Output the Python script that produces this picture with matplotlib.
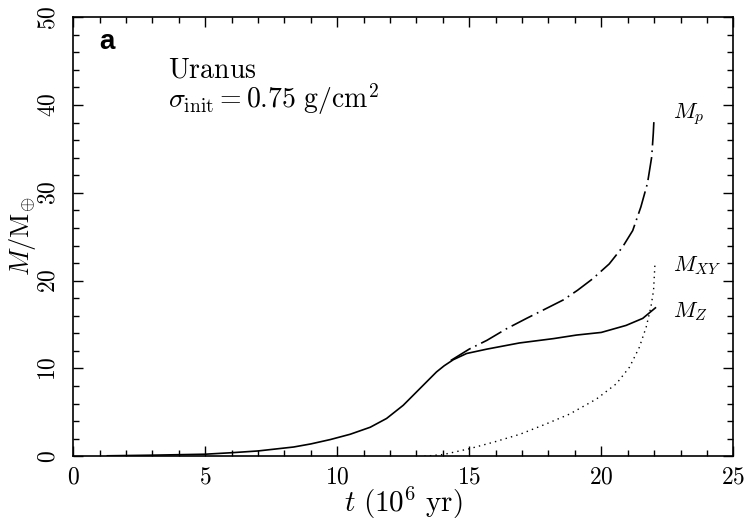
import matplotlib
matplotlib.use("Agg")
import matplotlib.pyplot as plt
from matplotlib.ticker import MultipleLocator, FuncFormatter

plt.rcParams['mathtext.fontset'] = 'cm'
plt.rcParams['font.family'] = ['DejaVu Serif']

# time in 10^6 yr, masses in Earth masses
t_z = [1.3, 3.0, 5.0, 6.0, 7.0, 8.35, 9.0, 9.74, 10.49, 11.25, 11.87, 12.5, 13.13, 13.76,
       14.05, 14.4, 14.9, 15.67, 16.9, 18.2, 19.06, 20.0, 20.94, 21.57, 22.05]
m_z = [0.05, 0.12, 0.23, 0.4, 0.6, 1.05, 1.4, 1.9, 2.5, 3.3, 4.3, 5.8, 7.7, 9.6,
       10.3, 11.0, 11.7, 12.2, 12.9, 13.4, 13.8, 14.1, 14.9, 15.7, 16.9]

t_p = [14.3, 15.0, 15.67, 16.4, 17.17, 17.9, 18.56, 19.1, 19.67, 20.3, 20.8, 21.19,
       21.5, 21.75, 21.91, 21.97, 22.0]
m_p = [10.9, 12.2, 13.2, 14.5, 15.7, 16.8, 17.8, 18.9, 20.2, 21.9, 23.8, 25.7,
       28.4, 31.1, 34.1, 36.8, 38.6]

t_xy = [13.3, 14.03, 15.0, 15.92, 16.92, 17.93, 18.8, 19.81, 20.57, 21.07, 21.44, 21.7,
        21.88, 21.98, 22.03]
m_xy = [0.0, 0.2, 0.85, 1.6, 2.5, 3.7, 4.8, 6.5, 8.25, 10.15, 12.4, 14.7,
        17.0, 18.9, 21.75]

fig = plt.figure(figsize=(7.46, 5.22), dpi=100)
ax = fig.add_axes([0.098, 0.126, 0.885, 0.841])

ax.plot(t_z, m_z, color='black', lw=1.2, solid_joinstyle='round')
ax.plot(t_p, m_p, color='black', lw=1.2, dashes=(14, 3, 1, 3))
ax.plot(t_xy, m_xy, color='black', lw=1.0, dashes=(1, 3))

ax.set_xlim(0, 25)
ax.set_ylim(0, 50)
ax.xaxis.set_major_locator(MultipleLocator(5))
ax.xaxis.set_minor_locator(MultipleLocator(1))
ax.yaxis.set_major_locator(MultipleLocator(10))
ax.yaxis.set_minor_locator(MultipleLocator(2))
fmt = FuncFormatter(lambda v, p: f'${v:g}$')
ax.xaxis.set_major_formatter(fmt)
ax.yaxis.set_major_formatter(fmt)
ax.tick_params(which='both', direction='in', top=True, right=True, labelsize=17, width=1)
ax.tick_params(which='major', length=7)
ax.tick_params(which='minor', length=4)
ax.tick_params(axis='x', pad=7)
ax.tick_params(axis='y', pad=10)
for lab in ax.get_yticklabels():
    lab.set_rotation(90)
    lab.set_va('center')
for s in ax.spines.values():
    s.set_linewidth(1.2)

ax.set_xlabel(r'$t\ (10^6\ \mathrm{yr})$', fontsize=21, labelpad=-3)
ax.set_ylabel(r'$M/\mathrm{M}_{\oplus}$', fontsize=19, labelpad=-1)

ax.text(1.0, 47.2, 'a', fontsize=20, family='Liberation Sans', weight='bold', va='center')
ax.text(3.6, 45.5, '$\\mathrm{Uranus}$\n$\\sigma_{\\rm init} = 0.75\\ \\mathrm{g/cm^2}$',
        fontsize=20, va='top', linespacing=0.9)

ax.text(22.7, 39.0, r'$M_p$', fontsize=16, va='center')
ax.text(22.7, 21.7, r'$M_{XY}$', fontsize=16, va='center')
ax.text(22.7, 16.5, r'$M_Z$', fontsize=16, va='center')

fig.savefig('out.png', dpi=100)
